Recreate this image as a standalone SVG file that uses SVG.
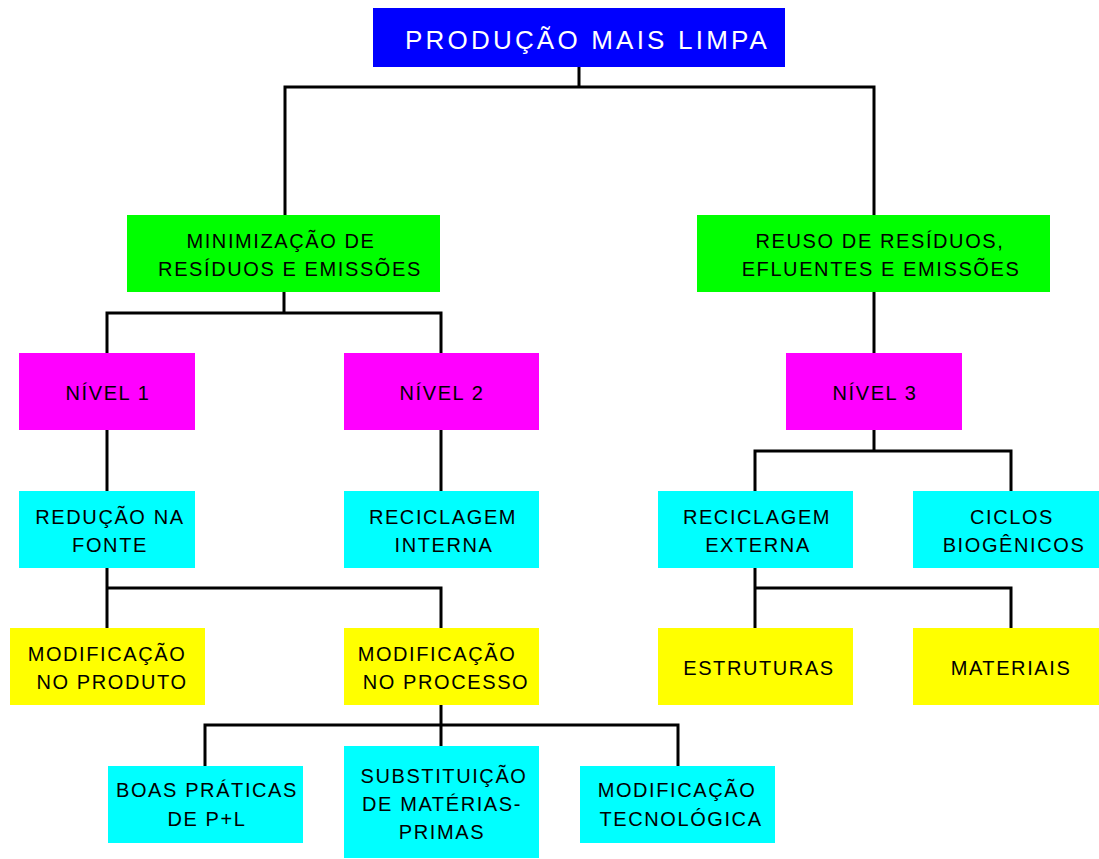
<svg xmlns="http://www.w3.org/2000/svg" width="1099" height="859" viewBox="0 0 1099 859">
<style>
text{font-family:"Liberation Sans",Arial,sans-serif;font-size:20px;letter-spacing:1.6px;fill:#000;text-anchor:middle}
.title{font-size:26px;letter-spacing:3.2px;fill:#fff;text-anchor:start}
.con{fill:none;stroke:#000;stroke-width:3;stroke-linejoin:miter}
.blue{fill:#0000FF}.green{fill:#00FF00}.mag{fill:#FF00FF}.cyan{fill:#00FFFF}.yel{fill:#FFFF00}
</style>
<rect width="1099" height="859" fill="#fff"/>
<g id="connectors" class="con">
<path d="M579 67V87M285 215V87H874V215"/>
<path d="M284 292V313M107 353V313H441V353"/>
<path d="M874 292V353"/>
<path d="M874 430V451M755 491V451H1011V491"/>
<path d="M107 430V491"/>
<path d="M441 430V491"/>
<path d="M107 568V628M107 588H441V628"/>
<path d="M755 568V628M755 588H1011V628"/>
<path d="M441 705V746M205 766V725H678V766"/>
</g>
<g id="n-pml"><rect class="blue" x="373" y="8" width="412" height="59"/><text class="title" x="405" y="49">PRODUÇÃO MAIS LIMPA</text></g>
<g id="n-min"><rect class="green" x="127" y="215" width="313" height="77"/><text x="281" y="248">MINIMIZAÇÃO DE</text><text x="290" y="276">RESÍDUOS E EMISSÕES</text></g>
<g id="n-reuso"><rect class="green" x="697" y="215" width="353" height="77"/><text x="880" y="248">REUSO DE RESÍDUOS,</text><text x="881" y="276">EFLUENTES E EMISSÕES</text></g>
<g id="n-nivel1"><rect class="mag" x="19" y="353" width="176" height="77"/><text x="108" y="400">NÍVEL 1</text></g>
<g id="n-nivel2"><rect class="mag" x="344" y="353" width="195" height="77"/><text x="442" y="400">NÍVEL 2</text></g>
<g id="n-nivel3"><rect class="mag" x="786" y="353" width="176" height="77"/><text x="875" y="400">NÍVEL 3</text></g>
<g id="n-reducao"><rect class="cyan" x="19" y="491" width="176" height="77"/><text x="110" y="524">REDUÇÃO NA</text><text x="110" y="552">FONTE</text></g>
<g id="n-recint"><rect class="cyan" x="344" y="491" width="195" height="77"/><text x="443" y="524">RECICLAGEM</text><text x="444" y="552">INTERNA</text></g>
<g id="n-recext"><rect class="cyan" x="658" y="491" width="195" height="77"/><text x="757" y="524">RECICLAGEM</text><text x="758" y="552">EXTERNA</text></g>
<g id="n-ciclos"><rect class="cyan" x="913" y="491" width="186" height="77"/><text x="1012" y="524">CICLOS</text><text x="1014" y="552">BIOGÊNICOS</text></g>
<g id="n-modprod"><rect class="yel" x="10" y="628" width="195" height="77"/><text x="107" y="661">MODIFICAÇÃO</text><text x="112" y="689">NO PRODUTO</text></g>
<g id="n-modproc"><rect class="yel" x="344" y="628" width="195" height="77"/><text x="437" y="661">MODIFICAÇÃO</text><text x="446" y="689">NO PROCESSO</text></g>
<g id="n-estr"><rect class="yel" x="658" y="628" width="195" height="77"/><text x="759" y="675">ESTRUTURAS</text></g>
<g id="n-mat"><rect class="yel" x="913" y="628" width="186" height="77"/><text x="1011" y="675">MATERIAIS</text></g>
<g id="n-boas"><rect class="cyan" x="108" y="766" width="195" height="77"/><text x="207" y="797">BOAS PRÁTICAS</text><text x="207" y="826">DE P+L</text></g>
<g id="n-subst"><rect class="cyan" x="344" y="746" width="195" height="112"/><text x="444" y="783">SUBSTITUIÇÃO</text><text x="442" y="811">DE MATÉRIAS-</text><text x="442" y="839">PRIMAS</text></g>
<g id="n-tec"><rect class="cyan" x="580" y="766" width="195" height="77"/><text x="677" y="797">MODIFICAÇÃO</text><text x="681" y="826">TECNOLÓGICA</text></g>
</svg>
